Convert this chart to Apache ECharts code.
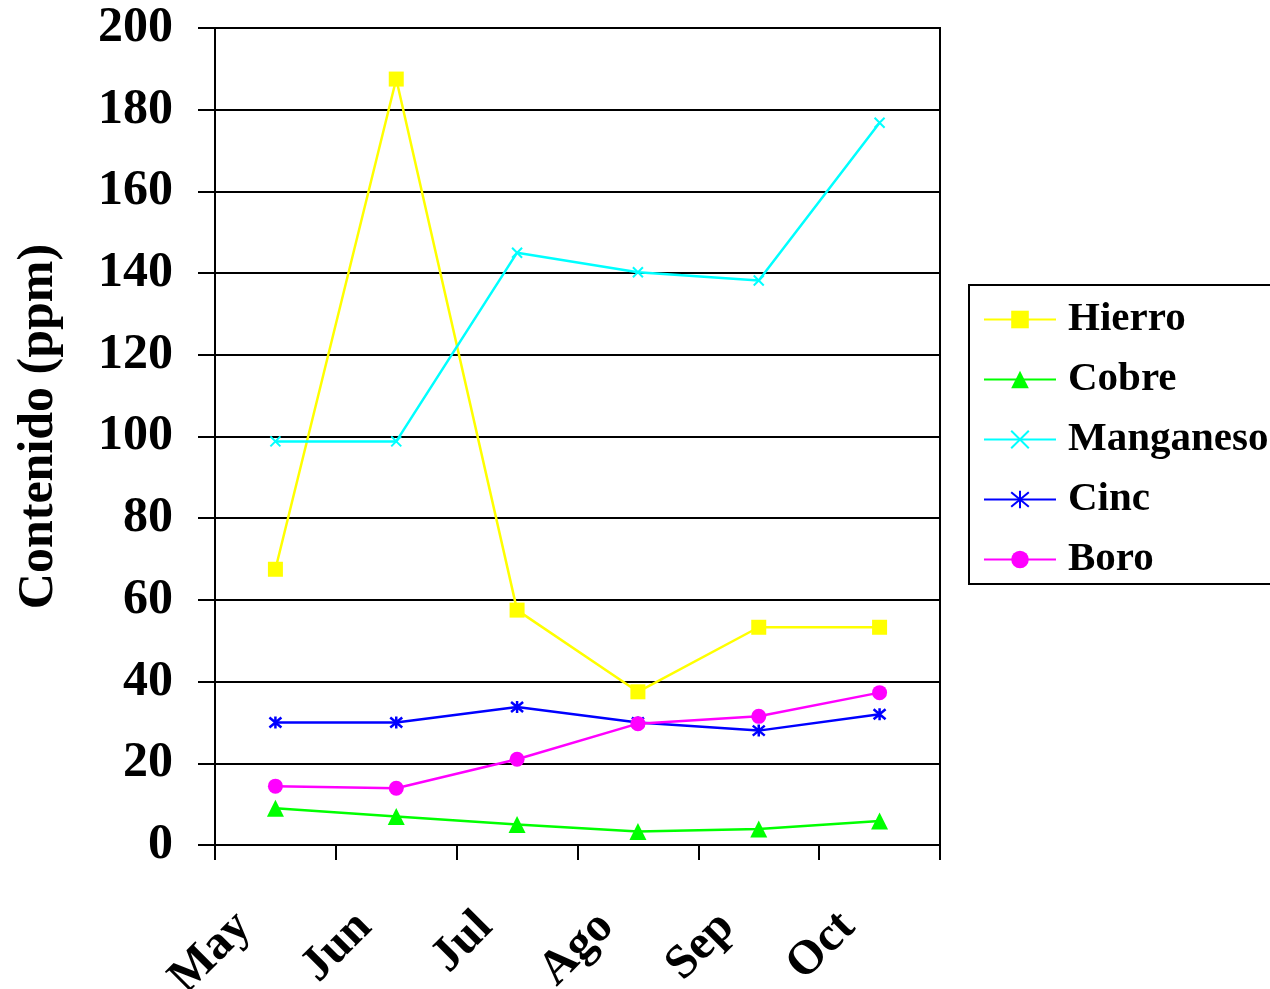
<!DOCTYPE html>
<html>
<head>
<meta charset="utf-8">
<script src="https://cdn.jsdelivr.net/npm/echarts@6/dist/echarts.min.js"></script>
<style>
html,body{margin:0;padding:0;background:#fff;}
#chart{width:1270px;height:989px;}
</style>
</head>
<body>
<div id="chart"></div>
<script>
var categories = ['May', 'Jun', 'Jul', 'Ago', 'Sep', 'Oct'];
var hierro = [67.5, 187.5, 57.5, 37.5, 53.3, 53.3];
var cobre = [9, 7, 5, 3.3, 3.9, 5.9];
var manganeso = [98.8, 98.8, 145, 140.2, 138.2, 176.8];
var cinc = [30, 30, 33.8, 30, 28, 32];
var boro = [14.4, 13.9, 21, 29.7, 31.5, 37.3];
var yTicks = [0, 20, 40, 60, 80, 100, 120, 140, 160, 180, 200];

var serif = '"Liberation Serif", "DejaVu Serif", serif';
var xPath = 'path://M0 0 L10 10 M10 0 L0 10';
var starPath = 'path://M0 0 L10 10 M10 0 L0 10 M5 -1 L5 11';

function mk(name, data, color, symbol, size, bw) {
  return {
    name: name,
    type: 'line',
    data: data,
    symbol: symbol,
    symbolSize: size,
    showSymbol: true,
    lineStyle: { color: color, width: 2.5 },
    itemStyle: { color: color, borderColor: color, borderWidth: bw || 0 },
    emphasis: { disabled: true },
    animation: false
  };
}

var chart = echarts.init(document.getElementById('chart'));
chart.setOption({
  backgroundColor: '#fff',
  animation: false,
  grid: {
    left: 215, right: 330, top: 28, bottom: 144,
    containLabel: false, outerBoundsMode: 'none',
    show: true, borderColor: '#000', borderWidth: 2, backgroundColor: 'transparent'
  },
  legend: {
    orient: 'vertical',
    left: 969, top: 285,
    padding: [14, 40, 4, 14],
    borderColor: '#000', borderWidth: 2,
    itemWidth: 72, itemHeight: 22, itemGap: 19,
    textStyle: { fontFamily: serif, fontWeight: 'bold', fontSize: 41, color: '#000', lineHeight: 40, padding: [0, 0, 0, 7] },
    data: ['Hierro', 'Cobre', 'Manganeso', 'Cinc', 'Boro']
  },
  xAxis: {
    type: 'category',
    data: categories,
    boundaryGap: true,
    axisLine: { show: true, lineStyle: { color: '#000', width: 2 } },
    axisTick: { show: true, length: 15, lineStyle: { color: '#000', width: 2 } },
    axisLabel: {
      rotate: 45, margin: 43, interval: 0, padding: [0, 45, 0, 0],
      fontFamily: serif, fontWeight: 'bold', fontSize: 48, color: '#000'
    },
    splitLine: { show: false }
  },
  yAxis: {
    type: 'value',
    min: 0, max: 200, interval: 20,
    name: 'Contenido (ppm)',
    nameLocation: 'middle',
    nameGap: 151,
    nameTextStyle: { fontFamily: serif, fontWeight: 'bold', fontSize: 50, color: '#000', padding: [0, 0, 0, 20] },
    axisLine: { show: true, lineStyle: { color: '#000', width: 2 } },
    axisTick: { show: true, length: 17, lineStyle: { color: '#000', width: 2 } },
    axisLabel: {
      margin: 42,
      fontFamily: serif, fontWeight: 'bold', fontSize: 50, color: '#000',
      formatter: function (v) { return yTicks.indexOf(v) >= 0 ? String(v) : ''; }
    },
    splitLine: { show: true, lineStyle: { color: '#000', width: 2 } }
  },
  series: [
    mk('Hierro', hierro, '#FFFF00', 'rect', 15),
    mk('Cobre', cobre, '#00FF00', 'triangle', 17),
    mk('Manganeso', manganeso, '#00FFFF', xPath, 10, 2),
    mk('Cinc', cinc, '#0000FF', starPath, 12, 2.5),
    mk('Boro', boro, '#FF00FF', 'circle', 15)
  ]
});
</script>
</body>
</html>
